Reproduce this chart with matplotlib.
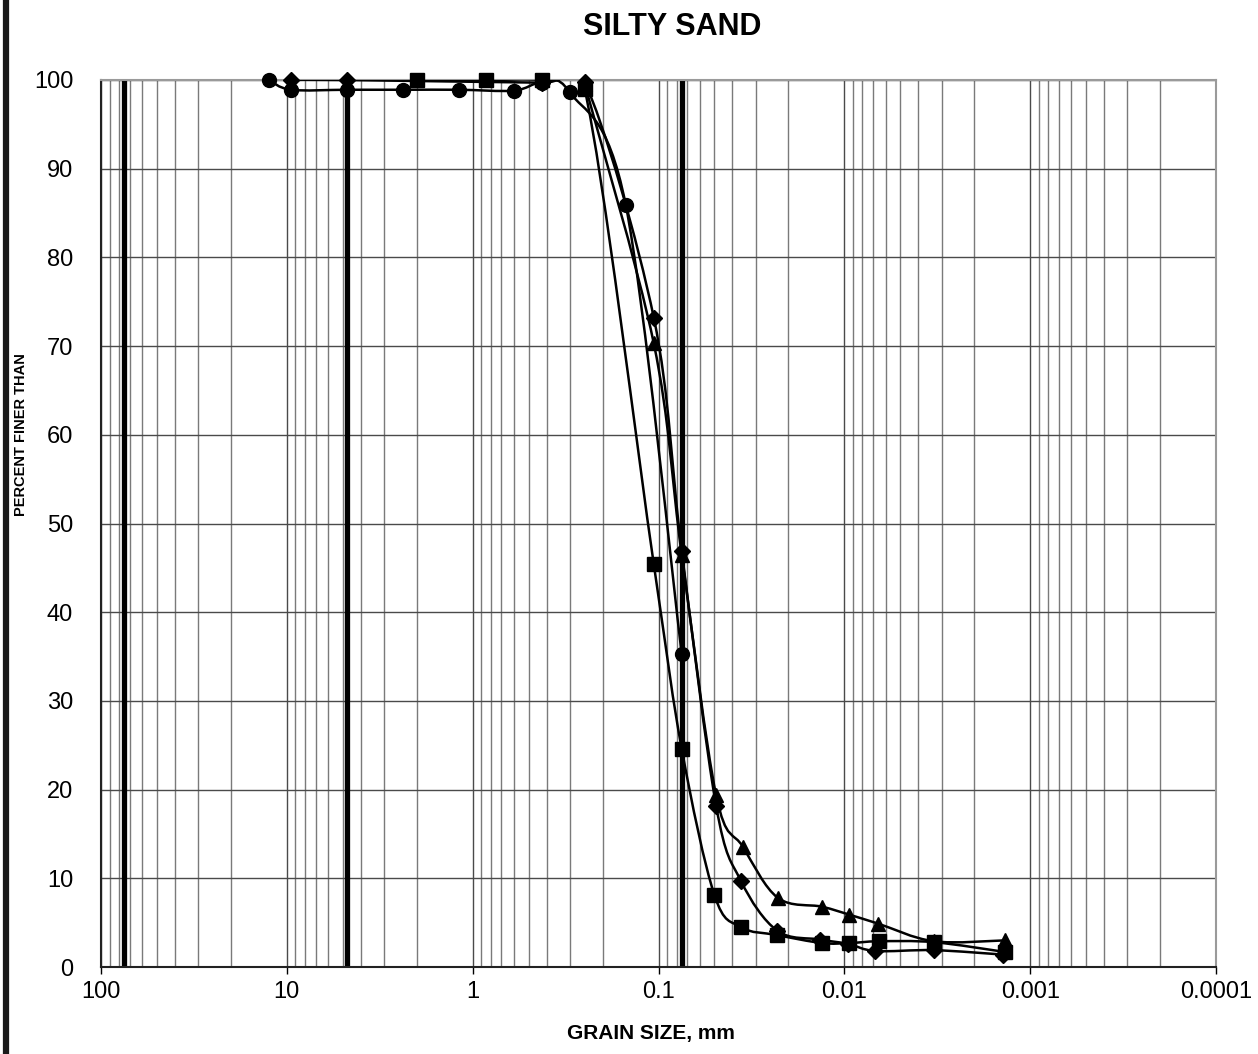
import numpy as np
import matplotlib
matplotlib.use("Agg")
import matplotlib.pyplot as plt
from matplotlib.path import Path
from matplotlib.patches import PathPatch
from matplotlib.lines import Line2D

plt.rcParams['font.family'] = ['Liberation Sans', 'DejaVu Sans']

# sieve + hydrometer results (grain size mm, percent finer)
circle_size = [12.5, 9.5, 4.75, 2.36, 1.18, 0.6, 0.425, 0.3, 0.15, 0.075]
circle_pct = [100.0, 98.9, 98.9, 98.9, 98.9, 98.8, 99.7, 98.6, 85.9, 35.3]

diamond_size = [9.5, 4.75, 0.425, 0.25, 0.106, 0.075, 0.049, 0.036, 0.023, 0.0135, 0.0095, 0.0068, 0.0033, 0.0014]
diamond_pct = [100.0, 100.0, 99.7, 99.8, 73.2, 46.9, 18.2, 9.7, 4.1, 3.1, 2.6, 1.8, 1.9, 1.4]

square_size = [2.0, 0.85, 0.425, 0.25, 0.106, 0.075, 0.050, 0.036, 0.023, 0.0132, 0.0094, 0.0065, 0.0033, 0.00137]
square_pct = [100.0, 100.0, 100.0, 99.0, 45.4, 24.6, 8.1, 4.5, 3.6, 2.7, 2.7, 2.9, 2.8, 1.7]

triangle_size = [0.25, 0.106, 0.075, 0.049, 0.035, 0.0228, 0.0132, 0.0094, 0.0066, 0.0033, 0.00137]
triangle_pct = [99.6, 70.3, 46.5, 19.4, 13.5, 7.8, 6.8, 5.9, 4.9, 2.9, 3.0]

# boundary lines: cobbles/gravel, gravel/sand, sand/fines
boundaries = [75, 4.75, 0.075]


def smooth_path(xs, ys):
    # excel style smoothed line: cubic bezier through the points in log-x space
    u = np.log10(xs)
    v = np.array(ys, dtype=float)
    n = len(u)
    verts = [(xs[0], v[0])]
    codes = [Path.MOVETO]
    for i in range(n - 1):
        i0 = max(i - 1, 0)
        i3 = min(i + 2, n - 1)
        c1u = u[i] + (u[i + 1] - u[i0]) / 6
        c1v = v[i] + (v[i + 1] - v[i0]) / 6
        c2u = u[i + 1] - (u[i3] - u[i]) / 6
        c2v = v[i + 1] - (v[i3] - v[i]) / 6
        verts += [(10 ** c1u, c1v), (10 ** c2u, c2v), (xs[i + 1], v[i + 1])]
        codes += [Path.CURVE4] * 3
    return Path(verts, codes)


fig = plt.figure(figsize=(12.58, 10.54), dpi=100)
ax = fig.add_axes([101 / 1258, 1 - 967 / 1054, 1115 / 1258, 887 / 1054])

ax.set_xscale('log')
ax.set_xlim(100, 0.0001)
ax.set_ylim(0, 100)

# grid
ax.set_xticks([100, 10, 1, 0.1, 0.01, 0.001, 0.0001])
ax.set_xticklabels(['100', '10', '1', '0.1', '0.01', '0.001', '0.0001'])
ax.set_yticks(range(0, 101, 10))
ax.xaxis.set_minor_locator(matplotlib.ticker.LogLocator(base=10, subs=np.arange(2, 10)))
ax.xaxis.set_minor_formatter(matplotlib.ticker.NullFormatter())
ax.grid(True, which='major', axis='both', color='#4a4a4a', lw=1.0)
ax.grid(True, which='minor', axis='x', color='#7a7a7a', lw=1.0)
ax.tick_params(axis='x', which='major', length=5, width=1, labelsize=17, pad=5, direction='out')
ax.tick_params(axis='x', which='minor', length=0)
ax.tick_params(axis='y', length=0, labelsize=17, pad=20)
ax.set_axisbelow(True)
for s in ['top', 'right']:
    ax.spines[s].set_color('#9a9a9a')
    ax.spines[s].set_linewidth(1.5)
for s in ['left', 'bottom']:
    ax.spines[s].set_color('#222222')
    ax.spines[s].set_linewidth(1.5)

for b in boundaries:
    ax.axvline(b, color='black', lw=3.8, zorder=2)

series = [
    (circle_size, circle_pct, 'o', 10),
    (diamond_size, diamond_pct, 'D', 8.5),
    (square_size, square_pct, 's', 10),
    (triangle_size, triangle_pct, '^', 10.5),
]
for xs, ys, m, ms in series:
    ax.add_patch(PathPatch(smooth_path(xs, ys), facecolor='none', edgecolor='black', lw=1.8, zorder=3))
    ax.plot(xs, ys, linestyle='none', marker=m, markersize=ms, color='black', zorder=4, clip_on=False)

fig.text(672 / 1258, 1 - 27 / 1054, 'SILTY SAND', ha='center', va='center', fontsize=22, fontweight='bold')
fig.text(651 / 1258, 1 - 1034 / 1054, 'GRAIN SIZE, mm', ha='center', va='center', fontsize=15, fontweight='bold')
fig.text(21 / 1258, 1 - 435 / 1054, 'PERCENT FINER THAN', ha='center', va='center', rotation=90,
         fontsize=10.5, fontweight='bold')

# left border of the sheet
fig.add_artist(Line2D([6 / 1258, 6 / 1258], [0, 1], transform=fig.transFigure, color='#1a1a1a', lw=4.5))

fig.savefig('out.png', dpi=100)
